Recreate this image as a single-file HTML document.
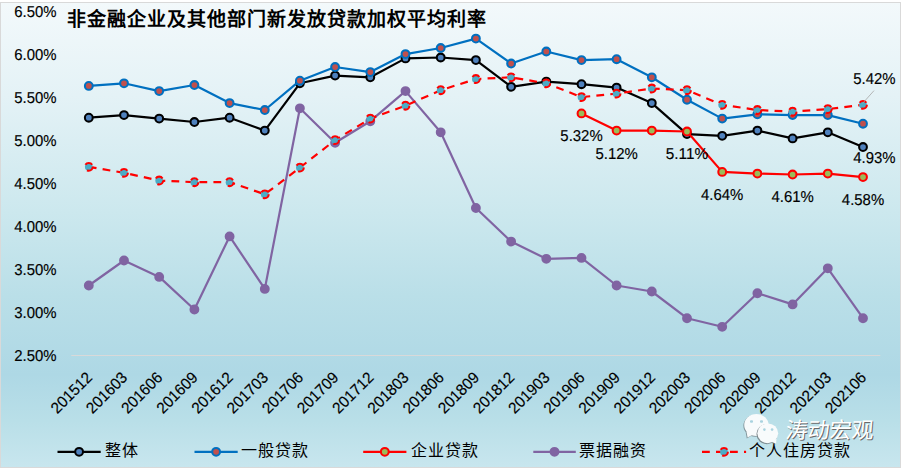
<!DOCTYPE html>
<html lang="zh-CN"><head><meta charset="utf-8"><title>chart</title>
<style>
html,body{margin:0;padding:0;background:#FFFFFF;}
svg{display:block;}
.ax{font-family:"Liberation Sans",sans-serif;font-size:15.8px;fill:#000000;stroke:#000000;stroke-width:0.15px;text-rendering:geometricPrecision;}
.title{font-family:"Liberation Serif",serif;font-size:19px;font-weight:bold;letter-spacing:1px;fill:#000000;}
.lg{font-family:"Liberation Sans",sans-serif;font-size:16px;letter-spacing:1px;fill:#000000;}
.wmt{font-family:"Liberation Sans",sans-serif;font-size:22px;font-weight:500;}
</style></head><body>
<svg width="903" height="471" viewBox="0 0 903 471">
<defs>
<linearGradient id="bg" x1="0" y1="0" x2="0" y2="1">
<stop offset="0" stop-color="#F3F9FB"/>
<stop offset="0.2" stop-color="#E4F2F6"/>
<stop offset="0.45" stop-color="#CCE8EE"/>
<stop offset="0.63" stop-color="#BADFE8"/>
<stop offset="0.80" stop-color="#AED8E5"/>
<stop offset="0.90" stop-color="#B9DFE8"/>
<stop offset="1" stop-color="#C8E6EE"/>
</linearGradient>
</defs>
<rect x="0.5" y="2.5" width="900" height="465" fill="url(#bg)" stroke="#D9D9D9" stroke-width="1"/>
<text x="67.3" y="26" class="title">非金融企业及其他部门新发放贷款加权平均利率</text>
<line x1="71.3" y1="355.5" x2="880.3" y2="355.5" stroke="#D9D9D9" stroke-width="1"/>
<text x="56.5" y="361.1" text-anchor="end" class="ax" textLength="42.3" lengthAdjust="spacingAndGlyphs">2.50%</text>
<text x="56.5" y="318.0" text-anchor="end" class="ax" textLength="42.3" lengthAdjust="spacingAndGlyphs">3.00%</text>
<text x="56.5" y="275.0" text-anchor="end" class="ax" textLength="42.3" lengthAdjust="spacingAndGlyphs">3.50%</text>
<text x="56.5" y="232.0" text-anchor="end" class="ax" textLength="42.3" lengthAdjust="spacingAndGlyphs">4.00%</text>
<text x="56.5" y="189.0" text-anchor="end" class="ax" textLength="42.3" lengthAdjust="spacingAndGlyphs">4.50%</text>
<text x="56.5" y="146.0" text-anchor="end" class="ax" textLength="42.3" lengthAdjust="spacingAndGlyphs">5.00%</text>
<text x="56.5" y="103.0" text-anchor="end" class="ax" textLength="42.3" lengthAdjust="spacingAndGlyphs">5.50%</text>
<text x="56.5" y="60.0" text-anchor="end" class="ax" textLength="42.3" lengthAdjust="spacingAndGlyphs">6.00%</text>
<text x="56.5" y="17.0" text-anchor="end" class="ax" textLength="42.3" lengthAdjust="spacingAndGlyphs">6.50%</text>

<text transform="translate(93.1,378.6) rotate(-45)" text-anchor="end" class="ax" textLength="50.6" lengthAdjust="spacingAndGlyphs">201512</text>
<text transform="translate(128.3,378.6) rotate(-45)" text-anchor="end" class="ax" textLength="50.6" lengthAdjust="spacingAndGlyphs">201603</text>
<text transform="translate(163.5,378.6) rotate(-45)" text-anchor="end" class="ax" textLength="50.6" lengthAdjust="spacingAndGlyphs">201606</text>
<text transform="translate(198.7,378.6) rotate(-45)" text-anchor="end" class="ax" textLength="50.6" lengthAdjust="spacingAndGlyphs">201609</text>
<text transform="translate(233.9,378.6) rotate(-45)" text-anchor="end" class="ax" textLength="50.6" lengthAdjust="spacingAndGlyphs">201612</text>
<text transform="translate(269.1,378.6) rotate(-45)" text-anchor="end" class="ax" textLength="50.6" lengthAdjust="spacingAndGlyphs">201703</text>
<text transform="translate(304.2,378.6) rotate(-45)" text-anchor="end" class="ax" textLength="50.6" lengthAdjust="spacingAndGlyphs">201706</text>
<text transform="translate(339.4,378.6) rotate(-45)" text-anchor="end" class="ax" textLength="50.6" lengthAdjust="spacingAndGlyphs">201709</text>
<text transform="translate(374.6,378.6) rotate(-45)" text-anchor="end" class="ax" textLength="50.6" lengthAdjust="spacingAndGlyphs">201712</text>
<text transform="translate(409.8,378.6) rotate(-45)" text-anchor="end" class="ax" textLength="50.6" lengthAdjust="spacingAndGlyphs">201803</text>
<text transform="translate(445.0,378.6) rotate(-45)" text-anchor="end" class="ax" textLength="50.6" lengthAdjust="spacingAndGlyphs">201806</text>
<text transform="translate(480.2,378.6) rotate(-45)" text-anchor="end" class="ax" textLength="50.6" lengthAdjust="spacingAndGlyphs">201809</text>
<text transform="translate(515.4,378.6) rotate(-45)" text-anchor="end" class="ax" textLength="50.6" lengthAdjust="spacingAndGlyphs">201812</text>
<text transform="translate(550.6,378.6) rotate(-45)" text-anchor="end" class="ax" textLength="50.6" lengthAdjust="spacingAndGlyphs">201903</text>
<text transform="translate(585.8,378.6) rotate(-45)" text-anchor="end" class="ax" textLength="50.6" lengthAdjust="spacingAndGlyphs">201906</text>
<text transform="translate(620.9,378.6) rotate(-45)" text-anchor="end" class="ax" textLength="50.6" lengthAdjust="spacingAndGlyphs">201909</text>
<text transform="translate(656.1,378.6) rotate(-45)" text-anchor="end" class="ax" textLength="50.6" lengthAdjust="spacingAndGlyphs">201912</text>
<text transform="translate(691.3,378.6) rotate(-45)" text-anchor="end" class="ax" textLength="50.6" lengthAdjust="spacingAndGlyphs">202003</text>
<text transform="translate(726.5,378.6) rotate(-45)" text-anchor="end" class="ax" textLength="50.6" lengthAdjust="spacingAndGlyphs">202006</text>
<text transform="translate(761.7,378.6) rotate(-45)" text-anchor="end" class="ax" textLength="50.6" lengthAdjust="spacingAndGlyphs">202009</text>
<text transform="translate(796.9,378.6) rotate(-45)" text-anchor="end" class="ax" textLength="50.6" lengthAdjust="spacingAndGlyphs">202012</text>
<text transform="translate(832.1,378.6) rotate(-45)" text-anchor="end" class="ax" textLength="50.6" lengthAdjust="spacingAndGlyphs">202103</text>
<text transform="translate(867.3,378.6) rotate(-45)" text-anchor="end" class="ax" textLength="50.6" lengthAdjust="spacingAndGlyphs">202106</text>

<polyline points="88.8,117.7 124.0,115.1 159.2,118.6 194.4,122.0 229.6,117.7 264.8,130.6 299.9,83.3 335.1,75.6 370.3,77.3 405.5,58.4 440.7,57.5 475.9,60.1 511.1,86.8 546.3,81.6 581.5,84.2 616.6,87.6 651.8,103.1 687.0,134.1 722.2,135.8 757.4,130.6 792.6,138.4 827.8,132.3 863.0,147.0" fill="none" stroke="#000000" stroke-width="2.2" stroke-linejoin="round"/>
<circle cx="88.8" cy="117.7" r="3.9" fill="#4F81BD" stroke="#000000" stroke-width="2.05"/>
<circle cx="124.0" cy="115.1" r="3.9" fill="#4F81BD" stroke="#000000" stroke-width="2.05"/>
<circle cx="159.2" cy="118.6" r="3.9" fill="#4F81BD" stroke="#000000" stroke-width="2.05"/>
<circle cx="194.4" cy="122.0" r="3.9" fill="#4F81BD" stroke="#000000" stroke-width="2.05"/>
<circle cx="229.6" cy="117.7" r="3.9" fill="#4F81BD" stroke="#000000" stroke-width="2.05"/>
<circle cx="264.8" cy="130.6" r="3.9" fill="#4F81BD" stroke="#000000" stroke-width="2.05"/>
<circle cx="299.9" cy="83.3" r="3.9" fill="#4F81BD" stroke="#000000" stroke-width="2.05"/>
<circle cx="335.1" cy="75.6" r="3.9" fill="#4F81BD" stroke="#000000" stroke-width="2.05"/>
<circle cx="370.3" cy="77.3" r="3.9" fill="#4F81BD" stroke="#000000" stroke-width="2.05"/>
<circle cx="405.5" cy="58.4" r="3.9" fill="#4F81BD" stroke="#000000" stroke-width="2.05"/>
<circle cx="440.7" cy="57.5" r="3.9" fill="#4F81BD" stroke="#000000" stroke-width="2.05"/>
<circle cx="475.9" cy="60.1" r="3.9" fill="#4F81BD" stroke="#000000" stroke-width="2.05"/>
<circle cx="511.1" cy="86.8" r="3.9" fill="#4F81BD" stroke="#000000" stroke-width="2.05"/>
<circle cx="546.3" cy="81.6" r="3.9" fill="#4F81BD" stroke="#000000" stroke-width="2.05"/>
<circle cx="581.5" cy="84.2" r="3.9" fill="#4F81BD" stroke="#000000" stroke-width="2.05"/>
<circle cx="616.6" cy="87.6" r="3.9" fill="#4F81BD" stroke="#000000" stroke-width="2.05"/>
<circle cx="651.8" cy="103.1" r="3.9" fill="#4F81BD" stroke="#000000" stroke-width="2.05"/>
<circle cx="687.0" cy="134.1" r="3.9" fill="#4F81BD" stroke="#000000" stroke-width="2.05"/>
<circle cx="722.2" cy="135.8" r="3.9" fill="#4F81BD" stroke="#000000" stroke-width="2.05"/>
<circle cx="757.4" cy="130.6" r="3.9" fill="#4F81BD" stroke="#000000" stroke-width="2.05"/>
<circle cx="792.6" cy="138.4" r="3.9" fill="#4F81BD" stroke="#000000" stroke-width="2.05"/>
<circle cx="827.8" cy="132.3" r="3.9" fill="#4F81BD" stroke="#000000" stroke-width="2.05"/>
<circle cx="863.0" cy="147.0" r="3.9" fill="#4F81BD" stroke="#000000" stroke-width="2.05"/>

<polyline points="88.8,85.9 124.0,83.3 159.2,91.1 194.4,85.0 229.6,103.1 264.8,110.0 299.9,80.7 335.1,67.0 370.3,72.1 405.5,54.1 440.7,48.0 475.9,38.6 511.1,63.5 546.3,51.5 581.5,60.1 616.6,59.2 651.8,77.3 687.0,99.7 722.2,118.6 757.4,114.3 792.6,115.1 827.8,115.1 863.0,123.7" fill="none" stroke="#0070C0" stroke-width="2.2" stroke-linejoin="round"/>
<circle cx="88.8" cy="85.9" r="3.9" fill="#C0504D" stroke="#0070C0" stroke-width="2.05"/>
<circle cx="124.0" cy="83.3" r="3.9" fill="#C0504D" stroke="#0070C0" stroke-width="2.05"/>
<circle cx="159.2" cy="91.1" r="3.9" fill="#C0504D" stroke="#0070C0" stroke-width="2.05"/>
<circle cx="194.4" cy="85.0" r="3.9" fill="#C0504D" stroke="#0070C0" stroke-width="2.05"/>
<circle cx="229.6" cy="103.1" r="3.9" fill="#C0504D" stroke="#0070C0" stroke-width="2.05"/>
<circle cx="264.8" cy="110.0" r="3.9" fill="#C0504D" stroke="#0070C0" stroke-width="2.05"/>
<circle cx="299.9" cy="80.7" r="3.9" fill="#C0504D" stroke="#0070C0" stroke-width="2.05"/>
<circle cx="335.1" cy="67.0" r="3.9" fill="#C0504D" stroke="#0070C0" stroke-width="2.05"/>
<circle cx="370.3" cy="72.1" r="3.9" fill="#C0504D" stroke="#0070C0" stroke-width="2.05"/>
<circle cx="405.5" cy="54.1" r="3.9" fill="#C0504D" stroke="#0070C0" stroke-width="2.05"/>
<circle cx="440.7" cy="48.0" r="3.9" fill="#C0504D" stroke="#0070C0" stroke-width="2.05"/>
<circle cx="475.9" cy="38.6" r="3.9" fill="#C0504D" stroke="#0070C0" stroke-width="2.05"/>
<circle cx="511.1" cy="63.5" r="3.9" fill="#C0504D" stroke="#0070C0" stroke-width="2.05"/>
<circle cx="546.3" cy="51.5" r="3.9" fill="#C0504D" stroke="#0070C0" stroke-width="2.05"/>
<circle cx="581.5" cy="60.1" r="3.9" fill="#C0504D" stroke="#0070C0" stroke-width="2.05"/>
<circle cx="616.6" cy="59.2" r="3.9" fill="#C0504D" stroke="#0070C0" stroke-width="2.05"/>
<circle cx="651.8" cy="77.3" r="3.9" fill="#C0504D" stroke="#0070C0" stroke-width="2.05"/>
<circle cx="687.0" cy="99.7" r="3.9" fill="#C0504D" stroke="#0070C0" stroke-width="2.05"/>
<circle cx="722.2" cy="118.6" r="3.9" fill="#C0504D" stroke="#0070C0" stroke-width="2.05"/>
<circle cx="757.4" cy="114.3" r="3.9" fill="#C0504D" stroke="#0070C0" stroke-width="2.05"/>
<circle cx="792.6" cy="115.1" r="3.9" fill="#C0504D" stroke="#0070C0" stroke-width="2.05"/>
<circle cx="827.8" cy="115.1" r="3.9" fill="#C0504D" stroke="#0070C0" stroke-width="2.05"/>
<circle cx="863.0" cy="123.7" r="3.9" fill="#C0504D" stroke="#0070C0" stroke-width="2.05"/>

<polyline points="581.5,113.4 616.6,130.6 651.8,130.6 687.0,131.5 722.2,171.9 757.4,173.6 792.6,174.5 827.8,173.6 863.0,177.1" fill="none" stroke="#FF0000" stroke-width="2.2" stroke-linejoin="round"/>
<circle cx="581.5" cy="113.4" r="3.9" fill="#9BBB59" stroke="#FF0000" stroke-width="2.05"/>
<circle cx="616.6" cy="130.6" r="3.9" fill="#9BBB59" stroke="#FF0000" stroke-width="2.05"/>
<circle cx="651.8" cy="130.6" r="3.9" fill="#9BBB59" stroke="#FF0000" stroke-width="2.05"/>
<circle cx="687.0" cy="131.5" r="3.9" fill="#9BBB59" stroke="#FF0000" stroke-width="2.05"/>
<circle cx="722.2" cy="171.9" r="3.9" fill="#9BBB59" stroke="#FF0000" stroke-width="2.05"/>
<circle cx="757.4" cy="173.6" r="3.9" fill="#9BBB59" stroke="#FF0000" stroke-width="2.05"/>
<circle cx="792.6" cy="174.5" r="3.9" fill="#9BBB59" stroke="#FF0000" stroke-width="2.05"/>
<circle cx="827.8" cy="173.6" r="3.9" fill="#9BBB59" stroke="#FF0000" stroke-width="2.05"/>
<circle cx="863.0" cy="177.1" r="3.9" fill="#9BBB59" stroke="#FF0000" stroke-width="2.05"/>

<polyline points="88.8,285.5 124.0,260.5 159.2,276.9 194.4,309.5 229.6,236.4 264.8,288.9 299.9,108.3 335.1,142.7 370.3,121.2 405.5,91.1 440.7,132.3 475.9,208.0 511.1,241.6 546.3,258.8 581.5,257.9 616.6,285.5 651.8,291.5 687.0,318.2 722.2,326.8 757.4,293.2 792.6,304.4 827.8,268.3 863.0,318.2" fill="none" stroke="#8064A2" stroke-width="2.2" stroke-linejoin="round"/>
<circle cx="88.8" cy="285.5" r="3.9" fill="#8064A2" stroke="#8064A2" stroke-width="2.05"/>
<circle cx="124.0" cy="260.5" r="3.9" fill="#8064A2" stroke="#8064A2" stroke-width="2.05"/>
<circle cx="159.2" cy="276.9" r="3.9" fill="#8064A2" stroke="#8064A2" stroke-width="2.05"/>
<circle cx="194.4" cy="309.5" r="3.9" fill="#8064A2" stroke="#8064A2" stroke-width="2.05"/>
<circle cx="229.6" cy="236.4" r="3.9" fill="#8064A2" stroke="#8064A2" stroke-width="2.05"/>
<circle cx="264.8" cy="288.9" r="3.9" fill="#8064A2" stroke="#8064A2" stroke-width="2.05"/>
<circle cx="299.9" cy="108.3" r="3.9" fill="#8064A2" stroke="#8064A2" stroke-width="2.05"/>
<circle cx="335.1" cy="142.7" r="3.9" fill="#8064A2" stroke="#8064A2" stroke-width="2.05"/>
<circle cx="370.3" cy="121.2" r="3.9" fill="#8064A2" stroke="#8064A2" stroke-width="2.05"/>
<circle cx="405.5" cy="91.1" r="3.9" fill="#8064A2" stroke="#8064A2" stroke-width="2.05"/>
<circle cx="440.7" cy="132.3" r="3.9" fill="#8064A2" stroke="#8064A2" stroke-width="2.05"/>
<circle cx="475.9" cy="208.0" r="3.9" fill="#8064A2" stroke="#8064A2" stroke-width="2.05"/>
<circle cx="511.1" cy="241.6" r="3.9" fill="#8064A2" stroke="#8064A2" stroke-width="2.05"/>
<circle cx="546.3" cy="258.8" r="3.9" fill="#8064A2" stroke="#8064A2" stroke-width="2.05"/>
<circle cx="581.5" cy="257.9" r="3.9" fill="#8064A2" stroke="#8064A2" stroke-width="2.05"/>
<circle cx="616.6" cy="285.5" r="3.9" fill="#8064A2" stroke="#8064A2" stroke-width="2.05"/>
<circle cx="651.8" cy="291.5" r="3.9" fill="#8064A2" stroke="#8064A2" stroke-width="2.05"/>
<circle cx="687.0" cy="318.2" r="3.9" fill="#8064A2" stroke="#8064A2" stroke-width="2.05"/>
<circle cx="722.2" cy="326.8" r="3.9" fill="#8064A2" stroke="#8064A2" stroke-width="2.05"/>
<circle cx="757.4" cy="293.2" r="3.9" fill="#8064A2" stroke="#8064A2" stroke-width="2.05"/>
<circle cx="792.6" cy="304.4" r="3.9" fill="#8064A2" stroke="#8064A2" stroke-width="2.05"/>
<circle cx="827.8" cy="268.3" r="3.9" fill="#8064A2" stroke="#8064A2" stroke-width="2.05"/>
<circle cx="863.0" cy="318.2" r="3.9" fill="#8064A2" stroke="#8064A2" stroke-width="2.05"/>

<polyline points="88.8,166.8 124.0,172.8 159.2,180.5 194.4,182.2 229.6,182.2 264.8,194.3 299.9,167.6 335.1,140.1 370.3,118.6 405.5,105.7 440.7,90.2 475.9,79.0 511.1,77.3 546.3,83.3 581.5,97.1 616.6,93.6 651.8,88.5 687.0,90.2 722.2,104.8 757.4,110.0 792.6,111.7 827.8,109.1 863.0,104.8" fill="none" stroke="#FF0000" stroke-width="2.2" stroke-linejoin="round" stroke-dasharray="7.8,6.2"/>
<circle cx="88.8" cy="166.8" r="3.9" fill="#4BACC6" stroke="#FF0000" stroke-width="2.05" stroke-dasharray="7.8,6.2"/>
<circle cx="124.0" cy="172.8" r="3.9" fill="#4BACC6" stroke="#FF0000" stroke-width="2.05" stroke-dasharray="7.8,6.2"/>
<circle cx="159.2" cy="180.5" r="3.9" fill="#4BACC6" stroke="#FF0000" stroke-width="2.05" stroke-dasharray="7.8,6.2"/>
<circle cx="194.4" cy="182.2" r="3.9" fill="#4BACC6" stroke="#FF0000" stroke-width="2.05" stroke-dasharray="7.8,6.2"/>
<circle cx="229.6" cy="182.2" r="3.9" fill="#4BACC6" stroke="#FF0000" stroke-width="2.05" stroke-dasharray="7.8,6.2"/>
<circle cx="264.8" cy="194.3" r="3.9" fill="#4BACC6" stroke="#FF0000" stroke-width="2.05" stroke-dasharray="7.8,6.2"/>
<circle cx="299.9" cy="167.6" r="3.9" fill="#4BACC6" stroke="#FF0000" stroke-width="2.05" stroke-dasharray="7.8,6.2"/>
<circle cx="335.1" cy="140.1" r="3.9" fill="#4BACC6" stroke="#FF0000" stroke-width="2.05" stroke-dasharray="7.8,6.2"/>
<circle cx="370.3" cy="118.6" r="3.9" fill="#4BACC6" stroke="#FF0000" stroke-width="2.05" stroke-dasharray="7.8,6.2"/>
<circle cx="405.5" cy="105.7" r="3.9" fill="#4BACC6" stroke="#FF0000" stroke-width="2.05" stroke-dasharray="7.8,6.2"/>
<circle cx="440.7" cy="90.2" r="3.9" fill="#4BACC6" stroke="#FF0000" stroke-width="2.05" stroke-dasharray="7.8,6.2"/>
<circle cx="475.9" cy="79.0" r="3.9" fill="#4BACC6" stroke="#FF0000" stroke-width="2.05" stroke-dasharray="7.8,6.2"/>
<circle cx="511.1" cy="77.3" r="3.9" fill="#4BACC6" stroke="#FF0000" stroke-width="2.05" stroke-dasharray="7.8,6.2"/>
<circle cx="546.3" cy="83.3" r="3.9" fill="#4BACC6" stroke="#FF0000" stroke-width="2.05" stroke-dasharray="7.8,6.2"/>
<circle cx="581.5" cy="97.1" r="3.9" fill="#4BACC6" stroke="#FF0000" stroke-width="2.05" stroke-dasharray="7.8,6.2"/>
<circle cx="616.6" cy="93.6" r="3.9" fill="#4BACC6" stroke="#FF0000" stroke-width="2.05" stroke-dasharray="7.8,6.2"/>
<circle cx="651.8" cy="88.5" r="3.9" fill="#4BACC6" stroke="#FF0000" stroke-width="2.05" stroke-dasharray="7.8,6.2"/>
<circle cx="687.0" cy="90.2" r="3.9" fill="#4BACC6" stroke="#FF0000" stroke-width="2.05" stroke-dasharray="7.8,6.2"/>
<circle cx="722.2" cy="104.8" r="3.9" fill="#4BACC6" stroke="#FF0000" stroke-width="2.05" stroke-dasharray="7.8,6.2"/>
<circle cx="757.4" cy="110.0" r="3.9" fill="#4BACC6" stroke="#FF0000" stroke-width="2.05" stroke-dasharray="7.8,6.2"/>
<circle cx="792.6" cy="111.7" r="3.9" fill="#4BACC6" stroke="#FF0000" stroke-width="2.05" stroke-dasharray="7.8,6.2"/>
<circle cx="827.8" cy="109.1" r="3.9" fill="#4BACC6" stroke="#FF0000" stroke-width="2.05" stroke-dasharray="7.8,6.2"/>
<circle cx="863.0" cy="104.8" r="3.9" fill="#4BACC6" stroke="#FF0000" stroke-width="2.05" stroke-dasharray="7.8,6.2"/>

<text x="581.5" y="141.3" text-anchor="middle" class="ax" textLength="42.3" lengthAdjust="spacingAndGlyphs">5.32%</text>
<text x="616.6" y="158.5" text-anchor="middle" class="ax" textLength="42.3" lengthAdjust="spacingAndGlyphs">5.12%</text>
<text x="687.0" y="159.3" text-anchor="middle" class="ax" textLength="42.3" lengthAdjust="spacingAndGlyphs">5.11%</text>
<text x="722.2" y="199.8" text-anchor="middle" class="ax" textLength="42.3" lengthAdjust="spacingAndGlyphs">4.64%</text>
<text x="792.6" y="202.3" text-anchor="middle" class="ax" textLength="42.3" lengthAdjust="spacingAndGlyphs">4.61%</text>
<text x="863.0" y="204.9" text-anchor="middle" class="ax" textLength="42.3" lengthAdjust="spacingAndGlyphs">4.58%</text>
<text x="874.4" y="84.1" text-anchor="middle" class="ax" textLength="42.3" lengthAdjust="spacingAndGlyphs">5.42%</text>
<text x="874.4" y="163.1" text-anchor="middle" class="ax" textLength="42.3" lengthAdjust="spacingAndGlyphs">4.93%</text>
<line x1="874" y1="90.6" x2="862.5" y2="103.5" stroke="#A6A6A6" stroke-width="0.8"/>
<line x1="57.5" y1="451.8" x2="100.7" y2="451.8" stroke="#000000" stroke-width="2.2"/>
<circle cx="79.1" cy="451.8" r="3.9" fill="#4F81BD" stroke="#000000" stroke-width="2.05"/>
<text x="104.7" y="455.7" class="lg">整体</text>
<line x1="194.5" y1="451.8" x2="237.7" y2="451.8" stroke="#0070C0" stroke-width="2.2"/>
<circle cx="216.1" cy="451.8" r="3.9" fill="#C0504D" stroke="#0070C0" stroke-width="2.05"/>
<text x="240.8" y="455.7" class="lg">一般贷款</text>
<line x1="363.2" y1="451.8" x2="406.4" y2="451.8" stroke="#FF0000" stroke-width="2.2"/>
<circle cx="384.8" cy="451.8" r="3.9" fill="#9BBB59" stroke="#FF0000" stroke-width="2.05"/>
<text x="410.5" y="455.7" class="lg">企业贷款</text>
<line x1="533.3" y1="451.8" x2="575.8" y2="451.8" stroke="#8064A2" stroke-width="2.2"/>
<circle cx="554.5" cy="451.8" r="3.9" fill="#8064A2" stroke="#8064A2" stroke-width="2.05"/>
<text x="579.2" y="455.7" class="lg">票据融资</text>
<line x1="702.0" y1="451.8" x2="746.1" y2="451.8" stroke="#FF0000" stroke-width="2.2" stroke-dasharray="7.8,6.2"/>
<circle cx="724.0" cy="451.8" r="3.9" fill="#4BACC6" stroke="#FF0000" stroke-width="2.05" stroke-dasharray="7.8,6.2"/>
<text x="749.0" y="455.7" class="lg">个人住房贷款</text>
<g class="wm">
<g fill="#6f7a7e" opacity="0.75" transform="translate(-0.8,0.8)">
<ellipse cx="756.4" cy="425" rx="12.2" ry="11"/>
<path d="M746.5 431.5 L747.6 437.6 L753 434.5z"/>
</g>
<g fill="#F8FBFC">
<ellipse cx="756.4" cy="425" rx="12.2" ry="11"/>
<path d="M746.5 431.5 L747.6 437.6 L753 434.5z"/>
</g>
<g fill="#6f7a7e" opacity="0.8" transform="translate(-0.8,0.8)">
<ellipse cx="767.8" cy="433.3" rx="10.6" ry="10.1"/>
<path d="M776.5 438.5 L776 443.8 L771.5 441.8z"/>
</g>
<g fill="#F8FBFC">
<ellipse cx="767.8" cy="433.3" rx="10.4" ry="9.9"/>
<path d="M776.5 438.5 L776 443.8 L771.5 441.8z"/>
</g>
<g fill="#A9D3DF">
<rect x="750" y="420.2" width="3" height="2.6" rx="1"/><rect x="760" y="420.2" width="3" height="2.6" rx="1"/>
<circle cx="764.4" cy="429.6" r="1.3"/><circle cx="772.1" cy="429.6" r="1.3"/>
</g>
<g transform="translate(785.3,438.3) skewX(-5)">
<text x="1.1" y="1.1" class="wmt" fill="#6a6a6a">涛动宏观</text>
<text x="0" y="0" class="wmt" fill="#FFFFFF">涛动宏观</text>
</g>
</g>
</svg>
</body></html>
